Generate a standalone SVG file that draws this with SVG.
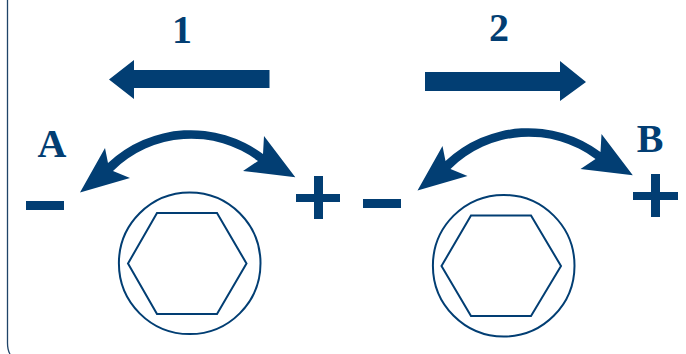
<svg xmlns="http://www.w3.org/2000/svg" width="686" height="354" viewBox="0 0 686 354">
<defs><style>
.f{fill:#023e73;stroke:none}
.o{fill:none;stroke:#023e73;stroke-width:2}
.t{font-family:"Liberation Serif",serif;font-weight:bold;font-size:40px;fill:#023e73;text-anchor:middle}
</style>
<g id="curve"><path class="f" d="M80 192.500L105 148L108 163A121 121 0 0 1 263 154L264 136L295.300 177.300L243 171L258 161A111 111 0 0 0 113 171L130 178Z"/></g>
</defs>
<rect width="686" height="354" fill="#fff"/>
<path d="M7.500 0V343Q7.500 350 10 354" fill="none" stroke="#1f4468" stroke-width="1.300"/>
<g id="group1">
<text class="t" x="182" y="43">1</text>
<path class="f" d="M109 79.500L134 60V70H269.500V88H134V99Z"/>
</g>
<g id="group2">
<text class="t" x="499" y="41">2</text>
<path class="f" d="M425 72H560V61L586 82L560 101V91H425Z"/>
</g>
<g id="nodeA">
<text class="t" x="52" y="157" font-size="36">A</text>
<use href="#curve"/>
<rect class="f" x="26" y="201" width="38" height="9"/>
<path class="f" d="M314 176H323V194H340V202H323V219H314V202H296V194H314Z"/>
<circle class="o" cx="189.700" cy="263.300" r="70.800"/>
<path class="o" d="M128 263.500L157 213H217L246.500 263.500L217 314H157Z"/>
</g>
<g id="nodeB">
<text class="t" x="650" y="152">B</text>
<use href="#curve" x="337.500" y="-2"/>
<rect class="f" x="363" y="199" width="38" height="9"/>
<path class="f" d="M651 174H660V192H678V200H660V217H651V200H633V192H651Z"/>
<circle class="o" cx="503.700" cy="265.700" r="70.800"/>
<path class="o" d="M441.500 266L471 215.500H531L561 266L531 316H471Z"/>
</g>
<g id="connectors"/>
</svg>
